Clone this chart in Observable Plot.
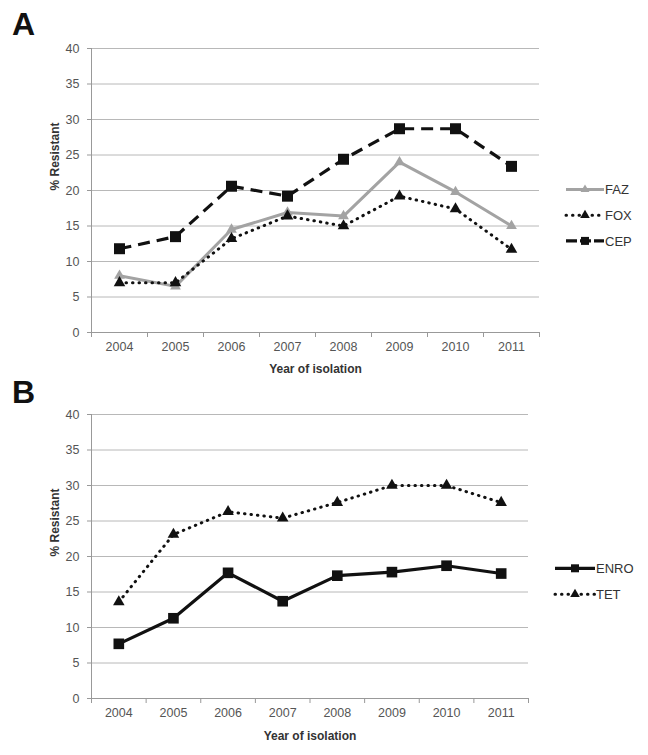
<!DOCTYPE html>
<html>
<head>
<meta charset="utf-8">
<script src="https://cdn.jsdelivr.net/npm/d3@7"></script>
<script src="https://cdn.jsdelivr.net/npm/@observablehq/plot@0.6"></script>
<style>
  body { margin: 0; background: #fff; }
  #wrap { position: relative; width: 648px; height: 755px; font-family: "Liberation Sans", Arial, sans-serif; }
  #wrap > svg { position: absolute; left: 0; }
  #overlay { position: absolute; left: 0; top: 0; pointer-events: none; }
</style>
</head>
<body>
<div id="wrap"></div>
<script>
// ---- data ----
const years = [2004, 2005, 2006, 2007, 2008, 2009, 2010, 2011];
const faz  = [8.0, 6.5, 14.5, 16.9, 16.4, 24.0, 19.8, 15.0];
const fox  = [7.0, 7.0, 13.2, 16.4, 15.0, 19.2, 17.4, 11.7];
const cep  = [11.8, 13.5, 20.6, 19.2, 24.4, 28.7, 28.7, 23.4];
const enro = [7.7, 11.3, 17.7, 13.7, 17.3, 17.8, 18.7, 17.6];
const tet  = [13.6, 23.1, 26.3, 25.4, 27.6, 30.0, 30.0, 27.6];
const yTicks = [0, 5, 10, 15, 20, 25, 30, 35, 40];
const xLabel = "Year of isolation";
const yLabel = "% Resistant";

const styles = {
  FAZ:  {stroke: "#a3a3a3", width: 3, dash: null, legDash: null, cap: "butt", symbol: "triangle", fill: "#a3a3a3", r: 4.0, legArea: 34},
  FOX:  {stroke: "#111", width: 3, dash: "0.5,6", legDash: "0.5,6", cap: "round", symbol: "triangle", fill: "#111", r: 4.3, legArea: 40},
  CEP:  {stroke: "#111", width: 3.2, dash: "12,7", legDash: "11,3", cap: "butt", symbol: "square", fill: "#111", r: 6.2, legArea: 64},
  ENRO: {stroke: "#111", width: 3.2, dash: null, legDash: null, cap: "butt", symbol: "square", fill: "#111", r: 6.0, legArea: 64},
  TET:  {stroke: "#111", width: 3, dash: "0.5,6", legDash: "0.5,6", cap: "round", symbol: "triangle", fill: "#111", r: 4.3, legArea: 40}
};

const panelA = [["FAZ", faz], ["FOX", fox], ["CEP", cep]];
const panelB = [["ENRO", enro], ["TET", tet]];

function rows(series) {
  return series.flatMap(([name, vals]) => years.map((y, i) => ({name, year: y, value: vals[i]})));
}

const bounds = d3.range(years.length + 1).map(i => years[0] - 0.5 + i);

function makePanel(series, opts) {
  const data = rows(series);
  const marks = [
    Plot.gridY(yTicks, {stroke: "#b8b8b8", strokeOpacity: 1, strokeWidth: 1}),
    Plot.axisY(yTicks, {tickSize: 4, tickPadding: 8, stroke: "#999", fill: "#555", fontSize: 12.5, label: null}),
    Plot.ruleX([bounds[0]], {stroke: "#999"}),
    Plot.ruleY([yTicks[0]], {stroke: "#999"}),
    Plot.axisX(bounds, {tickSize: 5, stroke: "#999", tickFormat: () => "", label: null}),
    Plot.axisX(years, {tickSize: 0, tickPadding: 10, fill: "#555", fontSize: 12.5, tickFormat: d => String(d), label: null}),
    Plot.text([yLabel], {frameAnchor: "left", rotate: -90, dx: -36, fontWeight: "bold", fontSize: 12, fill: "#333"}),
    Plot.text([xLabel], {frameAnchor: "bottom", dy: opts.xlabDy, fontWeight: "bold", fontSize: 12, fill: "#333"})
  ];
  for (const [name] of series) {
    const s = styles[name];
    const d = data.filter(r => r.name === name);
    marks.push(Plot.line(d, {x: "year", y: "value", stroke: s.stroke, strokeWidth: s.width,
      strokeDasharray: s.dash, strokeLinecap: s.cap, strokeLinejoin: "round"}));
  }
  for (const [name] of series) {
    const s = styles[name];
    const d = data.filter(r => r.name === name);
    marks.push(Plot.dot(d, {x: "year", y: "value", symbol: () => s.symbol, fill: s.fill, stroke: "none", r: s.r}));
  }
  return Plot.plot({
    width: 648,
    height: opts.height,
    marginLeft: 91,
    marginRight: opts.marginRight,
    marginTop: opts.marginTop,
    marginBottom: opts.marginBottom,
    style: {fontFamily: "Liberation Sans, Arial, sans-serif", background: "#fff"},
    x: {domain: [bounds[0], bounds[bounds.length - 1]], axis: null},
    y: {domain: [yTicks[0], yTicks[yTicks.length - 1]], axis: null},
    symbol: {type: "identity"},
    marks
  });
}

const wrap = document.getElementById("wrap");
const a = makePanel(panelA, {height: 375, marginTop: 48, marginBottom: 43, marginRight: 109, xlabDy: 40});
a.style.top = "0px";
wrap.appendChild(a);
const b = makePanel(panelB, {height: 380, marginTop: 39, marginBottom: 57, marginRight: 120, xlabDy: 41});
b.style.top = "375px";
wrap.appendChild(b);

// ---- overlay: panel letters and legends ----
const ov = d3.select(wrap).append("svg").attr("id", "overlay").attr("width", 648).attr("height", 755)
  .style("font-family", "Liberation Sans, Arial, sans-serif");

const panelLetters = [["A", 12, 35], ["B", 12, 403]];
ov.selectAll("text.letter").data(panelLetters).join("text")
  .attr("x", d => d[1]).attr("y", d => d[2]).text(d => d[0])
  .attr("font-size", 32).attr("font-weight", "bold").attr("fill", "#111")
  .attr("font-family", "Liberation Sans, Arial, sans-serif");

function legend(names, x0, y0, gap, len) {
  const g = ov.append("g");
  names.forEach((name, i) => {
    const s = styles[name];
    const y = y0 + i * gap;
    g.append("line").attr("x1", x0).attr("x2", x0 + len).attr("y1", y).attr("y2", y)
      .attr("stroke", s.stroke).attr("stroke-width", s.width)
      .attr("stroke-dasharray", s.legDash)
      .attr("stroke-linecap", s.cap);
    const sym = d3.symbol(s.symbol === "square" ? d3.symbolSquare : d3.symbolTriangle, s.legArea)();
    g.append("path").attr("d", sym).attr("transform", `translate(${x0 + len / 2},${y})`).attr("fill", s.fill);
    g.append("text").attr("x", x0 + len + 1).attr("y", y).attr("dy", "0.36em").text(name)
      .attr("font-size", 13).attr("fill", "#333");
  });
}
legend(panelA.map(d => d[0]), 566, 189.5, 25.7, 38);
legend(panelB.map(d => d[0]), 555, 568.3, 26, 40);
</script>
</body>
</html>
